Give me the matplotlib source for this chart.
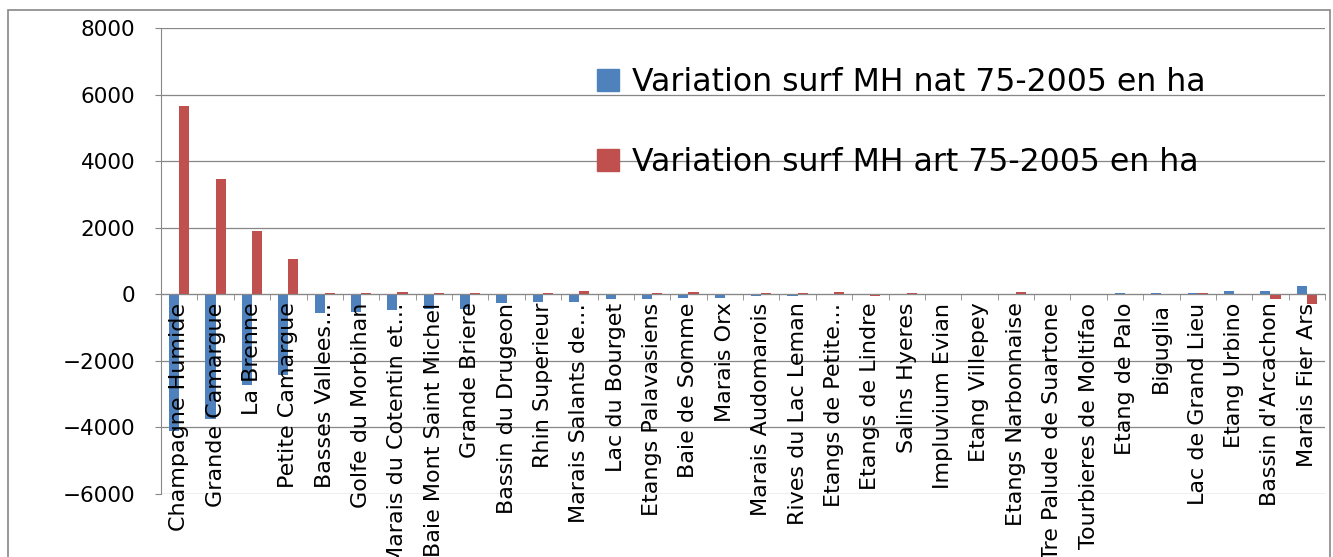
import matplotlib
matplotlib.use("Agg")
import matplotlib.pyplot as plt
from matplotlib.patches import Rectangle, Patch
import numpy as np

sites = ["Champagne Humide", "Grande Camargue", "La Brenne", "Petite Camargue",
         "Basses Vallees…", "Golfe du Morbihan", "Marais du Cotentin et…",
         "Baie Mont Saint Michel", "Grande Briere", "Bassin du Drugeon",
         "Rhin Superieur", "Marais Salants de…", "Lac du Bourget",
         "Etangs Palavasiens", "Baie de Somme", "Marais Orx", "Marais Audomarois",
         "Rives du Lac Leman", "Etangs de Petite…", "Etangs de Lindre",
         "Salins Hyeres", "Impluvium Evian", "Etang Villepey", "Etangs Narbonnaise",
         "Tre Palude de Suartone", "Tourbieres de Moltifao", "Etang de Palo",
         "Biguglia", "Lac de Grand Lieu", "Etang Urbino", "Bassin d'Arcachon",
         "Marais Fier Ars"]

var_nat = [-4100, -3750, -2720, -2410, -560, -520, -480, -450, -450, -270,
           -230, -230, -150, -150, -110, -100, -50, -50, 0, 0,
           0, 0, 0, 0, 0, 0, 40, 40, 40, 90, 90, 250]

var_art = [5650, 3450, 1910, 1070, 40, 40, 80, 40, 40, 0,
           40, 110, 0, 40, 80, 0, 40, 40, 80, -40,
           40, 0, 0, 80, 0, 0, 0, 0, 40, 0, -150, -300]

label_nat = "Variation surf MH nat 75-2005 en ha"
label_art = "Variation surf MH art 75-2005 en ha"

blue = "#4F81BD"
red = "#C0504D"
grid_col = "#878787"

plt.rcParams['font.family'] = ['DejaVu Sans']

fig = plt.figure(figsize=(13.33, 5.57), dpi=100)
ax = fig.add_axes([161 / 1333, 1 - 494 / 557, (1325 - 161) / 1333, (494 - 28) / 557])

x = np.arange(len(sites))
w = 0.28
ax.bar(x - w / 2, var_nat, width=w, color=blue, zorder=2)
ax.bar(x + w / 2, var_art, width=w, color=red, zorder=2)

ax.set_xlim(-0.5, len(sites) - 0.5)
ax.set_ylim(-6000, 8000)
ax.set_yticks(np.arange(-6000, 8001, 2000))
ax.yaxis.grid(True, color=grid_col, linewidth=0.9)
ax.set_axisbelow(True)

for s in ["top", "right"]:
    ax.spines[s].set_visible(False)
ax.spines["left"].set_color(grid_col)
ax.spines["bottom"].set_color(grid_col)
ax.spines["bottom"].set_position(("data", 0))
ax.spines["bottom"].set_zorder(3)

ax.tick_params(axis="y", length=4.5, color=grid_col, pad=14, labelsize=15.5)
ax.set_xticks(x)
ax.set_xticklabels(sites, rotation=90, fontsize=16)
ax.tick_params(axis="x", which="major", length=0, pad=6)
ax.set_xticks(np.arange(-0.5, len(sites), 1), minor=True)
ax.tick_params(axis="x", which="minor", length=4.5, color=grid_col, direction="out")
# category labels sit on top of the bars, like in Excel
ax.xaxis.set_zorder(3)

handles = [Patch(color=blue), Patch(color=red)]
ax.legend(handles, [label_nat, label_art], loc="upper left",
          bbox_to_anchor=(597 / 1333, 1 - 67 / 557), bbox_transform=fig.transFigure,
          frameon=False, fontsize=22.7, handlelength=0.7, handleheight=0.7,
          handletextpad=0.4, labelspacing=1.55, borderpad=0, borderaxespad=0)

# chart area border
fig.patches.append(Rectangle((8 / 1333, -0.1), 1322 / 1333, 1.1 - 10 / 557,
                             transform=fig.transFigure, fill=False,
                             edgecolor=grid_col, linewidth=1.2))

fig.savefig("out.png", dpi=100)
